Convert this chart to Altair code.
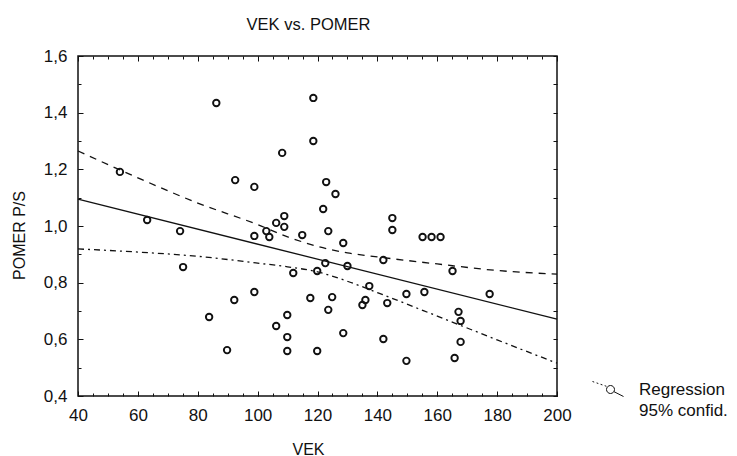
import altair as alt
import pandas as pd

# ---- data ----
vek = [54.0, 63.1, 86.2, 92.5, 98.9, 108.2, 118.6, 118.6, 122.9, 126.0,
       121.9, 145.0, 145.0, 108.9, 106.2, 108.9, 102.9, 103.9, 98.9, 74.1,
       75.1, 98.9, 92.2, 83.8, 106.2, 109.9, 109.9, 109.9, 89.8, 114.9,
       123.6, 128.6, 155.1, 158.1, 161.1, 142.0, 165.1, 111.9, 119.9, 122.6,
       130.0, 137.3, 149.7, 155.7, 177.5, 117.6, 124.9, 136.0, 135.0, 123.6,
       143.3, 167.1, 167.8, 128.6, 119.9, 142.0, 167.8, 149.7, 165.8]
pomer = [1.191, 1.021, 1.434, 1.162, 1.138, 1.258, 1.452, 1.300, 1.155, 1.113,
         1.060, 1.028, 0.986, 1.035, 1.011, 0.997, 0.982, 0.961, 0.965, 0.982,
         0.855, 0.767, 0.739, 0.679, 0.647, 0.686, 0.608, 0.559, 0.562, 0.968,
         0.982, 0.940, 0.961, 0.961, 0.961, 0.880, 0.841, 0.834, 0.841, 0.869,
         0.859, 0.788, 0.760, 0.767, 0.760, 0.746, 0.749, 0.739, 0.721, 0.704,
         0.728, 0.697, 0.665, 0.622, 0.559, 0.601, 0.591, 0.524, 0.534]

reg_vek = [40, 200]
reg_pomer = [1.095, 0.671]

ci_vek = [40, 60, 80, 100, 110, 120, 130, 140, 160, 180, 200]
ci_upper = [1.265, 1.170, 1.081, 1.005, 0.962, 0.928, 0.905, 0.891, 0.866, 0.843, 0.830]
ci_lower = [0.919, 0.908, 0.893, 0.869, 0.856, 0.838, 0.805, 0.765, 0.682, 0.598, 0.516]

x_major = [40, 60, 80, 100, 120, 140, 160, 180, 200]
x_minor = [40, 45, 50, 55, 60, 65, 70, 75, 80, 85, 90, 95, 100, 105, 110, 115, 120,
           125, 130, 135, 140, 145, 150, 155, 160, 165, 170, 175, 180, 185, 190, 195, 200]
y_major = [0.4, 0.6, 0.8, 1.0, 1.2, 1.4, 1.6]
y_minor = [0.4, 0.5, 0.6, 0.7, 0.8, 0.9, 1.0, 1.1, 1.2, 1.3, 1.4, 1.5, 1.6]
legend_labels = ["Regression", "95% confid."]

# ---- styling ----
W, H = 479, 340
FONT = "Liberation Sans"
INK = "#111111"
LEGEND_SYMBOL = ("M-1.55,-0.8 L-1.38,-0.74 M-1.14,-0.66 L-0.97,-0.6 "
                 "M-0.74,-0.52 L-0.56,-0.46 M-0.33,-0.38 L-0.16,-0.32 "
                 "M0.65,0 A0.4,0.4 0 1,1 -0.15,0 A0.4,0.4 0 1,1 0.65,0 "
                 "M0.6,0.22 L1.55,0.7")

pts = pd.DataFrame({"VEK": vek, "POMER": pomer})
reg = pd.DataFrame({"VEK": reg_vek, "POMER": reg_pomer})
ci = pd.DataFrame({"VEK": ci_vek, "upper": ci_upper, "lower": ci_lower})

xs = alt.Scale(domain=[40, 200], nice=False, zero=False)
ys = alt.Scale(domain=[0.4, 1.6], nice=False, zero=False)


def tick_axis(orient, values, size, offset):
    return alt.Axis(orient=orient, offset=offset, values=values, ticks=True,
                    tickSize=size, tickColor=INK, tickWidth=1, labels=False,
                    domain=False, grid=False)


points = alt.Chart(pts).mark_point(
    shape="circle", size=42, strokeWidth=1.9, color=INK, filled=False, opacity=1
).encode(
    x=alt.X("VEK:Q", scale=xs, axis=alt.Axis(
        orient="bottom", values=x_major, ticks=False, tickSize=0, domain=False,
        grid=False, labelPadding=11, labelFontSize=17, labelFont=FONT,
        labelColor=INK, labelFlush=False, title="VEK", titleFont=FONT,
        titleFontSize=16, titleFontWeight="normal", titleColor=INK,
        titleX=230, titleY=53, titleBaseline="middle")),
    y=alt.Y("POMER:Q", scale=ys, axis=alt.Axis(
        orient="left", values=y_major, ticks=False, tickSize=0, domain=False,
        grid=False, labelPadding=11, labelFontSize=17, labelFont=FONT,
        labelColor=INK, labelFlush=False,
        labelExpr="replace(format(datum.value, '.1f'), '.', ',')",
        title="POMER P/S", titleFont=FONT, titleFontSize=16,
        titleFontWeight="normal", titleColor=INK, titleX=-59, titleY=179,
        titleBaseline="middle")),
)

reg_line = alt.Chart(reg).mark_line(color=INK, strokeWidth=1.3).encode(
    x=alt.X("VEK:Q", scale=xs, title=None, axis=tick_axis("top", x_major, 5, -H)),
    y=alt.Y("POMER:Q", scale=ys, title=None, axis=tick_axis("right", y_major, 5, -W)),
)

upper_line = alt.Chart(ci).mark_line(
    color=INK, strokeWidth=1.3, strokeDash=[7, 6], interpolate="monotone"
).encode(
    x=alt.X("VEK:Q", scale=xs, title=None, axis=tick_axis("top", x_minor, 3, -H)),
    y=alt.Y("upper:Q", scale=ys, title=None, axis=tick_axis("right", y_minor, 3, -W)),
)

lower_line = alt.Chart(ci).mark_line(
    color=INK, strokeWidth=1.3, strokeDash=[6, 4, 2, 4], interpolate="monotone"
).encode(
    x=alt.X("VEK:Q", scale=xs, title=None, axis=tick_axis("bottom", x_major, 5, -H)),
    y=alt.Y("lower:Q", scale=ys, title=None, axis=tick_axis("left", y_minor, 4, -W)),
)

legend_layer = alt.Chart(pts).transform_filter("false").transform_calculate(
    key="'Regression'"
).mark_point(color=INK, filled=False, opacity=1, strokeWidth=1).encode(
    x=alt.X("VEK:Q", scale=xs, title=None, axis=tick_axis("bottom", x_minor, 3, -H)),
    y=alt.Y("POMER:Q", scale=ys, axis=None),
    shape=alt.Shape("key:N", scale=alt.Scale(domain=legend_labels,
                                             range=[LEGEND_SYMBOL, "M0,0"]),
                    legend=alt.Legend(
                        orient="none", legendX=519.5, legendY=323, title=None,
                        symbolSize=400, symbolStrokeColor=INK,
                        symbolStrokeWidth=1, symbolFillColor="transparent",
                        labelFont=FONT, labelFontSize=17, labelColor=INK,
                        labelOffset=20.5, rowPadding=1, padding=0)),
)

chart = alt.layer(
    points, reg_line, upper_line, lower_line, legend_layer
).resolve_axis(
    x="independent", y="independent"
).properties(
    width=W, height=H,
    title=alt.TitleParams("VEK vs. POMER", font=FONT, fontSize=16.5,
                          fontWeight="normal", color=INK, anchor="middle",
                          frame="group", offset=1, baseline="alphabetic", dx=-9),
    autosize=alt.AutoSizeParams(type="none"),
    padding={"left": 78, "top": 56, "right": 180, "bottom": 60},
    background="white",
).configure_view(
    stroke=INK, strokeWidth=1.5, fill="white"
)

chart.save("out.html", embed_options={"renderer": "svg", "actions": False})
